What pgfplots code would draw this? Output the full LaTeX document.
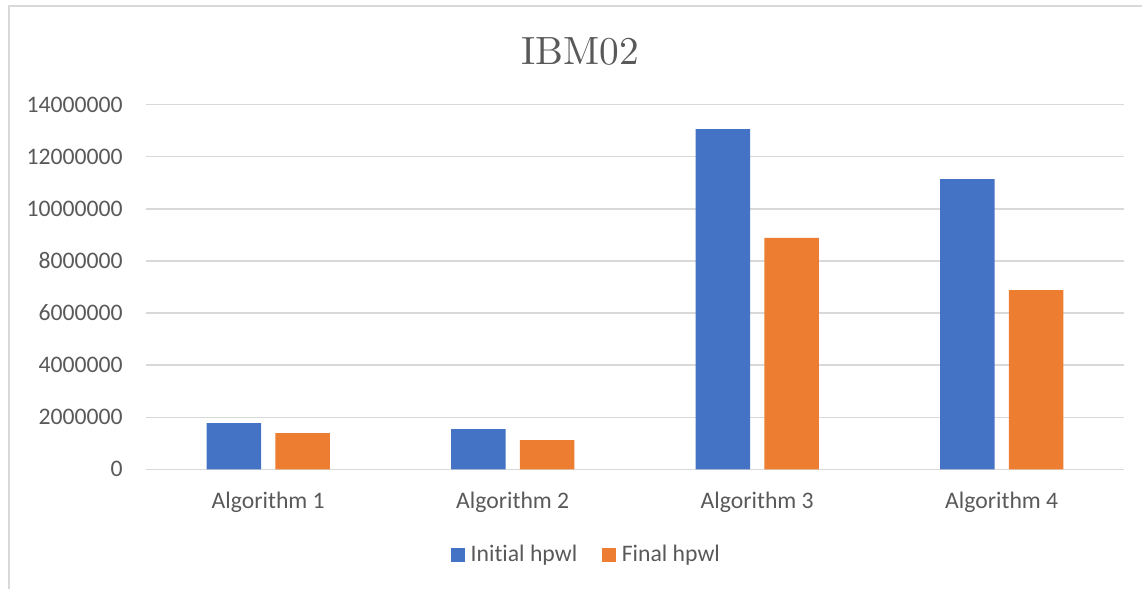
\documentclass[border=0pt]{standalone}
\usepackage{fontspec}
\usepackage{pgfplots}
\pgfplotsset{compat=1.18}
\newfontfamily\carlito[Ligatures={NoCommon}]{Carlito}
\newfontfamily\lmten{lmroman10-regular.otf}

\definecolor{barblue}{HTML}{4472C4}
\definecolor{barorange}{HTML}{ED7D31}
\definecolor{gridgray}{HTML}{D9D9D9}
\definecolor{textgray}{HTML}{595959}

\begin{document}
\begin{tikzpicture}
% page area
\useasboundingbox (0,0) rectangle (571pt,-294.5pt);
% chart frame (left and top edges)
\draw[gridgray, line width=0.75pt] (4.5pt,-294.5pt) -- (4.5pt,-3pt) -- (571pt,-3pt);
% title
\node[anchor=base, text=textgray, inner sep=0pt, font=\lmten\fontsize{19.7pt}{24pt}\selectfont] at (290.2pt,-32pt) {IBM02};

\begin{axis}[
  at={(73pt,-234.65pt)}, anchor=south west,
  scale only axis, width=489pt, height=182.3pt,
  xmin=-0.5, xmax=3.5, ymin=0, ymax=14000000,
  axis line style={draw=none},
  ymajorgrids, grid style={draw=gridgray, line width=0.65pt},
  major tick length=0pt,
  xtick={0,1,2,3},
  xticklabels={Algorithm 1,Algorithm 2,Algorithm 3,Algorithm 4},
  ytick={0,2000000,4000000,6000000,8000000,10000000,12000000,14000000},
  scaled y ticks=false,
  /pgf/number format/fixed,
  /pgf/number format/1000 sep={},
  /pgf/number format/assume math mode=true,
  ticklabel style={font=\carlito\fontsize{11.85pt}{14pt}\selectfont, text=textgray},
  yticklabel style={anchor=east, inner sep=0pt, xshift=-11.5pt},
  xticklabel style={anchor=north, inner sep=0pt, yshift=-11pt},
  ybar, bar width=27.25pt,
  legend columns=2,
  legend style={at={(axis description cs:0.4494,-0.2350)}, anchor=center,
    draw=none, fill=none, inner sep=0pt,
    font=\carlito\fontsize{11.85pt}{14pt}\selectfont, text=textgray,
    nodes={inner sep=0pt},
    /tikz/every odd column/.style={column sep=3pt},
    /tikz/column 2/.style={column sep=12.5pt}},
  legend image code/.code={\fill[#1] (0pt,-3.4pt) rectangle (6.8pt,3.4pt);},
]
\addplot[fill=barblue, draw=none, bar shift=-17.15pt] coordinates {
  (0,1770000) (1,1540000) (2,13060000) (3,11140000)};
\addplot[fill=barorange, draw=none, bar shift=17.15pt] coordinates {
  (0,1390000) (1,1120000) (2,8890000) (3,6880000)};
\legend{Initial hpwl, Final hpwl}
\end{axis}
\end{tikzpicture}
\end{document}
